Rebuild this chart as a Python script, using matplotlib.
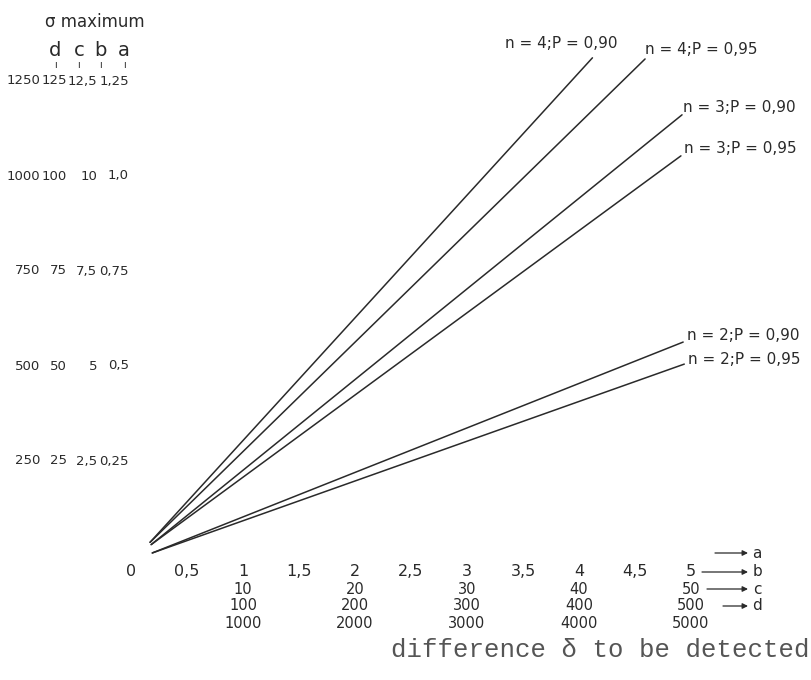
import matplotlib
matplotlib.use("Agg")
import matplotlib.pyplot as plt

# nomogram: sigma maximum vs difference to be detected
x_ticks = [0, 0.5, 1, 1.5, 2, 2.5, 3, 3.5, 4, 4.5, 5]
x_labels_a = ["0", "0,5", "1", "1,5", "2", "2,5", "3", "3,5", "4", "4,5", "5"]
x_major = [1, 2, 3, 4, 5]
x_labels_b = ["10", "20", "30", "40", "50"]
x_labels_c = ["100", "200", "300", "400", "500"]
x_labels_d = ["1000", "2000", "3000", "4000", "5000"]

y_ticks = [250, 500, 750, 1000, 1250]
y_labels_d = ["250", "500", "750", "1000", "1250"]
y_labels_c = ["25", "50", "75", "100", "125"]
y_labels_b = ["2,5", "5", "7,5", "10", "12,5"]
y_labels_a = ["0,25", "0,5", "0,75", "1,0", "1,25"]

series_names = ["n = 4;P = 0,90", "n = 4;P = 0,95", "n = 3;P = 0,90",
                "n = 3;P = 0,95", "n = 2;P = 0,90", "n = 2;P = 0,95"]
series_x_start = [0.17, 0.17, 0.18, 0.18, 0.19, 0.19]
series_y_start = [36, 36, 30, 30, 8, 8]
series_x_end = [4.12, 4.59, 4.92, 4.91, 4.93, 4.94]
series_y_end = [1311, 1308, 1161, 1053, 563, 505]

W, H = 811, 680
X0_PX, X_SCALE = 131, 112.0     # pixel of x=0, pixels per unit
Y0_PX, Y_SCALE = 556, 0.38      # pixel of y=0, pixels per unit

HAND = ["Liberation Sans Narrow", "DejaVu Sans"]
INK = "#2a2a2a"


def frac_y(py):
    return 1 - py / H


def frac_x(px):
    return px / W


fig = plt.figure(figsize=(W / 100, H / 100), dpi=100)
ax = fig.add_axes([0, 0, 1, 1])
ax.set_xlim(-X0_PX / X_SCALE, (W - X0_PX) / X_SCALE)
ax.set_ylim((Y0_PX - H) / Y_SCALE, Y0_PX / Y_SCALE)
ax.axis("off")

# lines
for name, xs, ys, xe, ye in zip(series_names, series_x_start, series_y_start,
                                series_x_end, series_y_end):
    ax.plot([xs, xe], [ys, ye], color=INK, lw=1.1, solid_capstyle="round")

# line labels
label_offsets = [(-0.78, 38), (0.0, 24), (0.01, 18), (0.03, 20), (0.03, 18), (0.03, 12)]
for name, xe, ye, (dx, dy) in zip(series_names, series_x_end, series_y_end, label_offsets):
    ax.text(xe + dx, ye + dy, name, family=HAND, fontsize=11, color=INK,
            ha="left", va="center")

# y axis scales (d c b a columns), right aligned
ytr = ax.get_yaxis_transform()
col_right = [frac_x(40), frac_x(67), frac_x(97), frac_x(129)]
for labels, cx in zip([y_labels_d, y_labels_c, y_labels_b, y_labels_a], col_right):
    for yv, lab in zip(y_ticks, labels):
        ax.text(cx, yv, lab, transform=ytr, family=HAND, fontsize=9.5,
                color=INK, ha="right", va="center")

ax.text(frac_x(95), frac_y(22), "σ maximum", transform=ax.transAxes,
        family=HAND, fontsize=12, color=INK, ha="center", va="center")
letter_x = [frac_x(55), frac_x(79), frac_x(100), frac_x(124)]
for letter, cx in zip(["d", "c", "b", "a"], letter_x):
    ax.text(cx, frac_y(50), letter, transform=ax.transAxes, family=HAND,
            fontsize=14, color=INK, ha="center", va="center")
    ax.text(cx, frac_y(65), "ı", transform=ax.transAxes, family=HAND,
            fontsize=7, color=INK, ha="center", va="center")

# x axis scales (a b c d rows)
xtr = ax.get_xaxis_transform()
for xv, lab in zip(x_ticks, x_labels_a):
    ax.text(xv, frac_y(571), lab, transform=xtr, family=HAND, fontsize=11.5,
            color=INK, ha="center", va="center")
for row_py, labels in zip([589, 606, 624], [x_labels_b, x_labels_c, x_labels_d]):
    for xv, lab in zip(x_major, labels):
        ax.text(xv, frac_y(row_py), lab, transform=xtr, family=HAND,
                fontsize=10.5, color=INK, ha="center", va="center")

# arrows pointing to scale letters
arrow_rows = [(553, 715, "a"), (572, 702, "b"), (589, 707, "c"), (606, 723, "d")]
for py, px_start, letter in arrow_rows:
    ax.annotate("", xy=(frac_x(748), frac_y(py)), xytext=(frac_x(px_start), frac_y(py)),
                xycoords="axes fraction", textcoords="axes fraction",
                arrowprops=dict(arrowstyle="-|>", color=INK, lw=0.9,
                                mutation_scale=8, shrinkA=0, shrinkB=0))
    ax.text(frac_x(757), frac_y(py), letter, transform=ax.transAxes,
            family=HAND, fontsize=11, color=INK, ha="center", va="center")

ax.text(frac_x(600), frac_y(650), "difference δ to be detected",
        transform=ax.transAxes, family=["Liberation Mono", "DejaVu Sans Mono"],
        fontsize=18.5, color="#555555", ha="center", va="center")

fig.savefig("out.png", dpi=100, facecolor="white")
